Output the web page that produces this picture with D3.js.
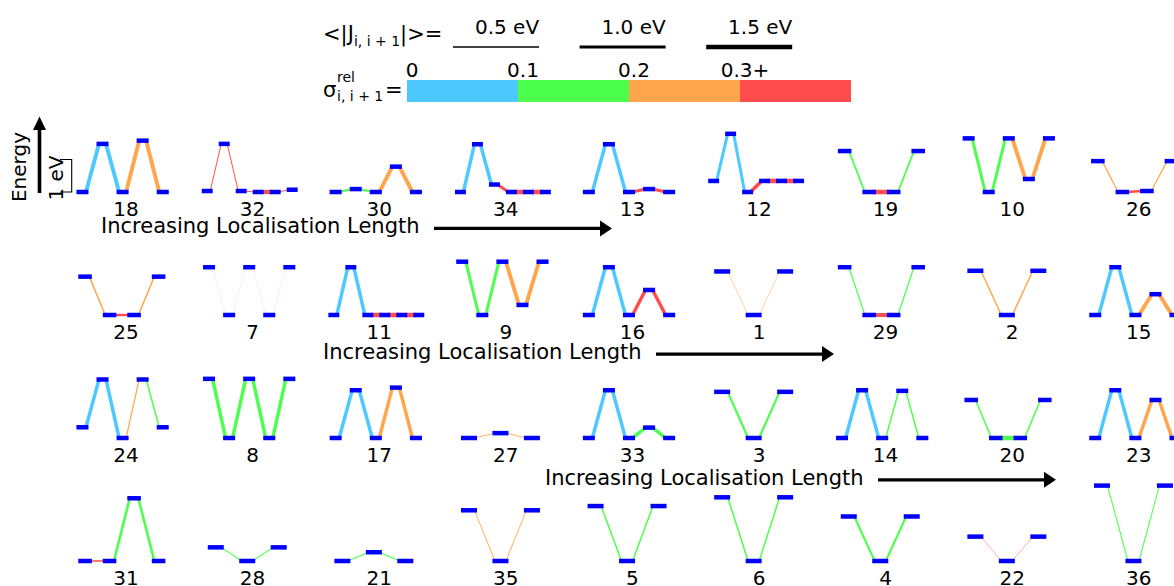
<!DOCTYPE html>
<html>
<head>
<meta charset="utf-8">
<script src="https://cdn.jsdelivr.net/npm/d3@7"></script>
<style>
  body { margin: 0; background: #fff; }
  text { font-family: "DejaVu Sans", sans-serif; fill: #000; }
</style>
</head>
<body>
<svg id="chart" width="1174" height="586"></svg>
<script>
// Chain labels, one row per sequence of increasing localisation length
const panelRows = [
  [18, 32, 30, 34, 13, 12, 19, 10, 26],
  [25, 7, 11, 9, 16, 1, 29, 2, 15],
  [24, 8, 17, 27, 33, 3, 14, 20, 23],
  [31, 28, 21, 35, 5, 6, 4, 22, 36]
];

// Site energies (eV, relative to the lowest site of each chain)
const siteEnergies = {
  18: [0, 1.48, 0, 1.58, 0],
  32: [0.03, 1.48, 0.03, 0, 0, 0.07],
  30: [0, 0.09, 0, 0.78, 0],
  34: [0, 1.47, 0.23, 0, 0, 0],
  13: [0, 1.47, 0, 0.09, 0],
  12: [0.34, 1.79, 0, 0.34, 0.34, 0.34],
  19: [1.26, 0, 0, 1.26],
  10: [1.65, 0, 1.65, 0.40, 1.65],
  26: [0.95, 0, 0.03, 0.95],
  25: [1.18, 0, 0, 1.18],
  7:  [1.47, 0, 1.47, 0, 1.47],
  11: [0, 1.47, 0, 0, 0, 0],
  9:  [1.64, 0, 1.64, 0.31, 1.64],
  16: [0, 1.47, 0, 0.77, 0],
  1:  [1.34, 0, 1.34],
  29: [1.47, 0, 0, 1.47],
  2:  [1.36, 0, 1.36],
  15: [0, 1.47, 0, 0.64, 0],
  24: [0.33, 1.80, 0, 1.80, 0.33],
  8:  [1.82, 0, 1.82, 0, 1.82],
  17: [0, 1.47, 0, 1.55, 0],
  27: [0, 0.15, 0],
  33: [0, 1.47, 0, 0.32, 0],
  3:  [1.42, 0, 1.42],
  14: [0, 1.47, 0, 1.45, 0],
  20: [1.17, 0, 0, 1.17],
  23: [0, 1.47, 0, 1.17, 0],
  31: [0, 0, 1.93, 0],
  28: [0.42, 0, 0.42],
  21: [0, 0.27, 0],
  35: [1.56, 0, 1.56],
  5:  [1.69, 0, 1.69],
  6:  [1.96, 0, 1.96],
  4:  [1.37, 0, 1.37],
  22: [0.75, 0, 0.75],
  36: [2.32, 0, 2.32]
};

// Mean nearest-neighbour coupling <|J_i,i+1|> (eV)
const couplingJ = {
  18: [1.3, 1.3, 1.3, 1.3],
  32: [0.33, 0.33, 0.33, 1.4, 0.33],
  30: [0.65, 0.65, 1.3, 1.3],
  34: [1.15, 1.15, 1.0, 1.5, 1.5],
  13: [1.15, 1.15, 1.0, 1.0],
  12: [1.0, 1.0, 1.2, 1.5, 1.5],
  19: [0.6, 1.5, 0.6],
  10: [1.0, 1.0, 1.3, 1.3],
  26: [0.4, 0.8, 0.4],
  25: [0.5, 0.8, 0.5],
  7:  [0.04, 0.04, 0.04, 0.04],
  11: [1.15, 1.15, 1.5, 1.5, 1.5],
  9:  [1.0, 1.0, 1.3, 1.3],
  16: [1.15, 1.15, 1.15, 1.15],
  1:  [0.17, 0.17],
  29: [0.4, 1.3, 0.4],
  2:  [0.5, 0.5],
  15: [1.15, 1.15, 1.3, 1.3],
  24: [1.15, 1.15, 0.4, 0.5],
  8:  [1.15, 1.15, 1.15, 1.15],
  17: [1.15, 1.15, 1.15, 1.15],
  27: [0.3, 0.3],
  33: [1.15, 1.15, 1.15, 1.15],
  3:  [0.75, 0.75],
  14: [1.15, 1.15, 0.5, 0.5],
  20: [0.5, 1.5, 0.5],
  23: [1.15, 1.15, 1.15, 1.15],
  31: [0.5, 0.85, 0.85],
  28: [0.35, 0.35],
  21: [0.4, 0.4],
  35: [0.3, 0.3],
  5:  [0.5, 0.5],
  6:  [0.5, 0.5],
  4:  [0.7, 0.7],
  22: [0.15, 0.15],
  36: [0.35, 0.35]
};

// Relative coupling spread sigma^rel_i,i+1
const sigmaRel = {
  18: [0.06, 0.06, 0.26, 0.26],
  32: [0.38, 0.38, 0.36, 0.40, 0.37],
  30: [0.15, 0.15, 0.25, 0.25],
  34: [0.05, 0.05, 0.35, 0.38, 0.38],
  13: [0.05, 0.05, 0.34, 0.34],
  12: [0.06, 0.06, 0.35, 0.36, 0.36],
  19: [0.14, 0.37, 0.14],
  10: [0.16, 0.16, 0.25, 0.25],
  26: [0.24, 0.36, 0.24],
  25: [0.25, 0.36, 0.25],
  7:  [0.40, 0.40, 0.40, 0.40],
  11: [0.05, 0.05, 0.36, 0.36, 0.36],
  9:  [0.16, 0.16, 0.25, 0.25],
  16: [0.05, 0.05, 0.33, 0.33],
  1:  [0.27, 0.27],
  29: [0.14, 0.37, 0.14],
  2:  [0.25, 0.25],
  15: [0.05, 0.05, 0.25, 0.25],
  24: [0.05, 0.05, 0.24, 0.15],
  8:  [0.15, 0.15, 0.15, 0.15],
  17: [0.05, 0.05, 0.25, 0.25],
  27: [0.26, 0.26],
  33: [0.05, 0.05, 0.14, 0.14],
  3:  [0.15, 0.15],
  14: [0.05, 0.05, 0.14, 0.14],
  20: [0.14, 0.16, 0.14],
  23: [0.05, 0.05, 0.25, 0.25],
  31: [0.35, 0.15, 0.15],
  28: [0.14, 0.14],
  21: [0.15, 0.15],
  35: [0.26, 0.26],
  5:  [0.15, 0.15],
  6:  [0.15, 0.15],
  4:  [0.15, 0.15],
  22: [0.38, 0.38],
  36: [0.15, 0.15]
};

const couplingLegend = [0.5, 1.0, 1.5];
const sigmaTicks = [0, 0.1, 0.2, 0.3];
const sigmaTickLabels = ["0", "0.1", "0.2", "0.3+"];
const sigmaColors = ["#4dc9ff", "#4dff4d", "#ffa64d", "#ff4d4d"];
const arrowText = "Increasing Localisation Length";

const svg = d3.select("#chart");

// ---- scales ----
const colorOf = d3.scaleThreshold().domain([0.1, 0.2, 0.3]).range(sigmaColors);
const widthOf = d3.scaleLinear().domain([0, 1]).range([0, 3]);       // stroke px per eV of |J|
const colCenter = d3.scaleLinear().domain([0, 8]).range([126, 1138.8]);
const rowBase = d3.scaleLinear().domain([0, 3]).range([192, 561]);
const pxPerEV = 32.5;
const halfPanel = 55.4;
const barHalf = 0.175;   // half-length of a site bar in site units
const barCap = 2.5;
const barThick = 4.5;

// ---- panels ----
panelRows.forEach((row, r) => {
  row.forEach((label, c) => {
    const E = siteEnergies[label];
    const J = couplingJ[label];
    const S = sigmaRel[label];
    const n = E.length;
    const cx = colCenter(c);
    const base = rowBase(r);
    const x = d3.scaleLinear().domain([-0.59, n - 0.07]).range([cx - halfPanel, cx + halfPanel]);
    const y = d3.scaleLinear().domain([0, 1]).range([base, base - pxPerEV]);
    const g = svg.append("g").attr("class", "chain");

    g.selectAll("line.link")
      .data(d3.range(n - 1))
      .join("line")
      .attr("class", "link")
      .attr("x1", i => x(i + barHalf))
      .attr("y1", i => y(E[i]))
      .attr("x2", i => x(i + 1 - barHalf))
      .attr("y2", i => y(E[i + 1]))
      .attr("stroke", i => colorOf(S[i]))
      .attr("stroke-width", i => widthOf(J[i]));

    g.selectAll("rect.site")
      .data(E)
      .join("rect")
      .attr("class", "site")
      .attr("x", (e, i) => x(i - barHalf) - barCap)
      .attr("width", (e, i) => x(i + barHalf) - x(i - barHalf) + 2 * barCap)
      .attr("y", e => y(e) - barThick / 2)
      .attr("height", barThick)
      .attr("fill", "#0000ff");

    g.append("text")
      .attr("x", cx)
      .attr("y", base + 23.5)
      .attr("text-anchor", "middle")
      .attr("font-size", 20)
      .text(label);
  });
});

// ---- "Increasing Localisation Length" arrows ----
function hArrow(x1, x2, yy) {
  svg.append("line").attr("x1", x1).attr("x2", x2 - 11).attr("y1", yy).attr("y2", yy)
    .attr("stroke", "#000").attr("stroke-width", 3.3);
  svg.append("path")
    .attr("d", `M${x2 - 12},${yy - 8}L${x2},${yy}L${x2 - 12},${yy + 8}Z`)
    .attr("fill", "#000");
}
[0, 1, 2].forEach(k => {
  const tx = 101 + 222 * k;
  const ty = 233.3 + 125.7 * k;
  svg.append("text").attr("x", tx).attr("y", ty).attr("font-size", 21).text(arrowText);
  hArrow(434 + 222 * k, 612 + 222 * k, 228.4 + 125.7 * k);
});

// ---- energy axis ----
svg.append("line").attr("x1", 39.5).attr("x2", 39.5).attr("y1", 193).attr("y2", 128)
  .attr("stroke", "#000").attr("stroke-width", 3.6);
svg.append("path").attr("d", "M33,130L39.5,116.5L46,130Z").attr("fill", "#000");
svg.append("text").attr("transform", "translate(26,167) rotate(-90)")
  .attr("text-anchor", "middle").attr("font-size", 20).text("Energy");
svg.append("text").attr("transform", "translate(62.5,178) rotate(-90)")
  .attr("text-anchor", "middle").attr("font-size", 20).text("1 eV");
{
  const yb = rowBase(0);
  const yt = yb - pxPerEV;
  svg.append("path").attr("d", `M60,${yt}H71.7V${yb}H60`)
    .attr("fill", "none").attr("stroke", "#000").attr("stroke-width", 1.1);
}

// ---- coupling legend ----
const jText = svg.append("text").attr("x", 323).attr("y", 41).attr("font-size", 21);
jText.append("tspan").text("<|J");
jText.append("tspan").attr("font-size", 14).attr("dy", 5).text("i, i + 1");
jText.append("tspan").attr("dy", -5).text("|>=");

couplingLegend.forEach((v, k) => {
  const x0 = 453 + 126.6 * k;
  svg.append("line").attr("x1", x0).attr("x2", x0 + 86).attr("y1", 47).attr("y2", 47)
    .attr("stroke", "#000").attr("stroke-width", widthOf(v));
  svg.append("text").attr("x", x0 + 54).attr("y", 34).attr("text-anchor", "middle")
    .attr("font-size", 20).text(v.toFixed(1) + " eV");
});

// ---- sigma colour bar ----
svg.append("text").attr("x", 323).attr("y", 97).attr("font-size", 21).text("σ");
svg.append("text").attr("x", 337).attr("y", 82).attr("font-size", 14).text("rel");
svg.append("text").attr("x", 337).attr("y", 101).attr("font-size", 14).text("i, i + 1");
svg.append("text").attr("x", 385).attr("y", 97).attr("font-size", 21).text("=");

const sx = d3.scaleLinear().domain([0, 0.4]).range([407, 851]);
svg.selectAll("rect.cbar")
  .data(sigmaTicks)
  .join("rect")
  .attr("class", "cbar")
  .attr("x", d => sx(d))
  .attr("width", d => sx(d + 0.1) - sx(d))
  .attr("y", 80)
  .attr("height", 22)
  .attr("fill", d => colorOf(d + 0.05));
svg.selectAll("text.ctick")
  .data(sigmaTicks)
  .join("text")
  .attr("class", "ctick")
  .attr("x", d => sx(d) + 5)
  .attr("y", 77)
  .attr("text-anchor", "middle")
  .attr("font-size", 20)
  .text((d, i) => sigmaTickLabels[i]);
</script>
</body>
</html>
